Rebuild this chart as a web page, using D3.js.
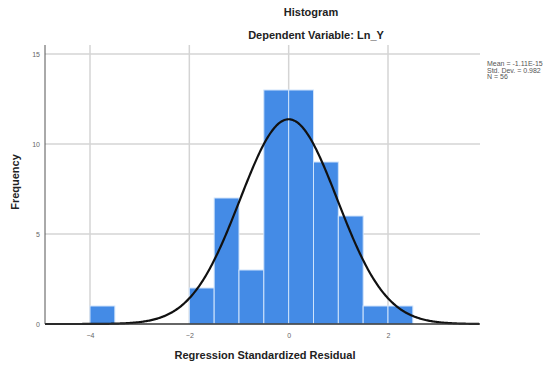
<!DOCTYPE html>
<html><head><meta charset="utf-8">
<script src="https://cdn.jsdelivr.net/npm/d3@7"></script>
<style>body{margin:0;background:#fff}svg{display:block}</style>
</head><body>
<svg id="c" width="553" height="365"></svg>
<script>
const binStarts = [-4, -2, -1.5, -1, -0.5, 0, 0.5, 1, 1.5, 2];
const counts    = [ 1,  2,  7,    3,  13,  13,  9,   6, 1,   1];
const binWidth = 0.5;
const xTicks = [-4, -2, 0, 2];
const yTicks = [0, 5, 10, 15];
const stats = {mean: -1.11e-15, sd: 0.982, n: 56};
const legendLines = ["Mean = -1.11E-15", "Std. Dev. = 0.982", "N = 56"];

const svg = d3.select("#c");
const L = 45, R = 480, T = 45, B = 324;
const x = d3.scaleLinear().domain([-4, 2]).range([90, 388]);
const xMin = x.invert(L), xMax = x.invert(R);
const y = d3.scaleLinear().domain([0, 15]).range([B, 54]);

// gridlines
const g = svg.append("g");
g.selectAll(".hg").data(yTicks.filter(d => d > 0)).enter().append("line")
  .attr("x1", L).attr("x2", R).attr("y1", d => y(d)).attr("y2", d => y(d))
  .attr("stroke", "#d4d4d4").attr("stroke-width", 1.5);
g.selectAll(".vg").data(xTicks).enter().append("line")
  .attr("x1", d => x(d)).attr("x2", d => x(d)).attr("y1", T).attr("y2", B)
  .attr("stroke", "#d4d4d4").attr("stroke-width", 1.5);

// bars
svg.append("g").selectAll("rect").data(binStarts.map((s, i) => ({s, c: counts[i]}))).enter()
  .append("rect")
  .attr("x", d => x(d.s)).attr("width", d => x(d.s + binWidth) - x(d.s))
  .attr("y", d => y(d.c)).attr("height", d => y(0) - y(d.c))
  .attr("fill", "#448be6").attr("stroke", "#cfe3fb").attr("stroke-width", 1);

// normal curve
const pts = d3.range(xMin, xMax + 0.001, 0.02).map(v => [v,
  stats.n * binWidth / (stats.sd * Math.sqrt(2 * Math.PI)) * Math.exp(-0.5 * Math.pow((v - stats.mean) / stats.sd, 2))]);
svg.append("path").datum(pts)
  .attr("d", d3.line().x(d => x(d[0])).y(d => y(d[1])))
  .attr("fill", "none").attr("stroke", "#111").attr("stroke-width", 2.2);

// axes lines
svg.append("line").attr("x1", L).attr("x2", L).attr("y1", T).attr("y2", B).attr("stroke", "#555").attr("stroke-width", 1);
svg.append("line").attr("x1", L).attr("x2", R).attr("y1", B).attr("y2", B).attr("stroke", "#333").attr("stroke-width", 1.5);

const font = "Arial, Liberation Sans, sans-serif";
// ticks
const yAxis = d3.axisLeft(y).tickValues(yTicks).tickFormat(d3.format("d")).tickSize(0).tickPadding(5);
svg.append("g").attr("transform", `translate(${L},0)`).call(yAxis)
  .call(s => s.select(".domain").remove())
  .selectAll("text").attr("font-family", font).attr("font-size", 7).attr("fill", "#666");
const xAxis = d3.axisBottom(x).tickValues(xTicks).tickFormat(d3.format("d")).tickSize(0).tickPadding(9);
svg.append("g").attr("transform", `translate(0,${B})`).call(xAxis)
  .call(s => s.select(".domain").remove())
  .selectAll("text").attr("font-family", font).attr("font-size", 7).attr("fill", "#666");

// titles
svg.append("text").attr("x", 311).attr("y", 16).attr("text-anchor", "middle")
  .attr("font-family", font).attr("font-size", 11).attr("font-weight", "bold").attr("fill", "#222").text("Histogram");
svg.append("text").attr("x", 316).attr("y", 39).attr("text-anchor", "middle")
  .attr("font-family", font).attr("font-size", 11).attr("font-weight", "bold").attr("fill", "#222").text("Dependent Variable: Ln_Y");
svg.append("text").attr("x", 265).attr("y", 359).attr("text-anchor", "middle")
  .attr("font-family", font).attr("font-size", 11).attr("font-weight", "bold").attr("fill", "#222").text("Regression Standardized Residual");
svg.append("text").attr("transform", "translate(19,182) rotate(-90)").attr("text-anchor", "middle")
  .attr("font-family", font).attr("font-size", 11).attr("font-weight", "bold").attr("fill", "#222").text("Frequency");

// legend
svg.append("g").selectAll("text").data(legendLines).enter().append("text")
  .attr("x", 487).attr("y", (d, i) => 66 + i * 6.5)
  .attr("font-family", font).attr("font-size", 7).attr("fill", "#555").text(d => d);
</script>
</body></html>
